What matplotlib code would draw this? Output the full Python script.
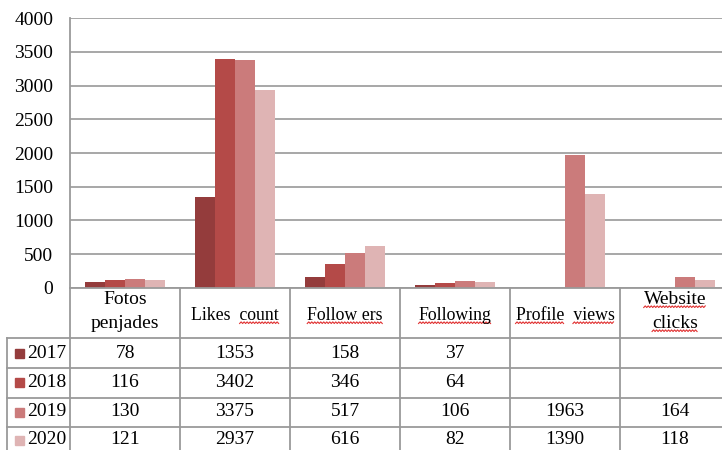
import matplotlib
matplotlib.use("Agg")
import matplotlib.pyplot as plt
import numpy as np

categories = ["Fotos\npenjades", "Likes  count", "Follow ers", "Following", "Profile  views", "Website\nclicks"]
years = ["2017", "2018", "2019", "2020"]
v2017 = [78, 1353, 158, 37, None, None]
v2018 = [116, 3402, 346, 64, None, None]
v2019 = [130, 3375, 517, 106, 1963, 164]
v2020 = [121, 2937, 616, 82, 1390, 118]
series = [v2017, v2018, v2019, v2020]
colors = ["#943c3c", "#b44a48", "#cb7b7b", "#dfb4b4"]
yticks = [0, 500, 1000, 1500, 2000, 2500, 3000, 3500, 4000]
# words with spell-check underline: (category index, line index, word)
squiggles = [(1, 0, "count"), (2, 0, "Follow ers"), (3, 0, "Following"),
             (4, 0, "Profile"), (4, 0, "views"), (5, 0, "Website"), (5, 1, "clicks")]

W, H = 722, 450
plt.rcParams['font.family'] = ['Liberation Serif', 'DejaVu Serif']
fig = plt.figure(figsize=(W / 100, H / 100), dpi=100)

def fx(x):
    return x / W

def fy(y):
    return 1 - y / H

ax_left, ax_right, ax_top, ax_bot = 70, 730, 18.3, 287.7
ax = fig.add_axes([fx(ax_left), fy(ax_bot), (ax_right - ax_left) / W, (ax_bot - ax_top) / H])

n = len(categories)
x = np.arange(n)
bw = 0.18
for i, (s, c) in enumerate(zip(series, colors)):
    vals = [np.nan if v is None else v for v in s]
    ax.bar(x + (i - 1.5) * bw, vals, width=bw, color=c, zorder=3, linewidth=0)

ax.set_xlim(-0.5, n - 0.5)
ax.set_ylim(0, 4000)
ax.set_yticks(yticks)
ax.set_yticklabels([str(t) for t in yticks], fontsize=14)
ax.set_xticks([])
ax.tick_params(axis='y', length=0, pad=12)
for sp in ['top', 'right', 'bottom']:
    ax.spines[sp].set_visible(False)
ax.spines['left'].set_color('#9a9a9a')
ax.spines['left'].set_linewidth(1.3)
ax.yaxis.grid(True, color='#a0a0a0', linewidth=1.3, zorder=0)
ax.set_axisbelow(True)

# Table
lc = '#9a9a9a'
lw = 1.3
col_w = (ax_right - ax_left) / n
col_edges = [ax_left + i * col_w for i in range(n + 1)]
row_lines = [287.7, 338, 367.5, 397.5, 427]
tbl_left = 7
fig.add_artist(plt.Line2D([fx(ax_left), fx(W + 10)], [fy(287.7), fy(287.7)], color=lc, lw=lw))
for yl in row_lines[1:]:
    fig.add_artist(plt.Line2D([fx(tbl_left), fx(W + 10)], [fy(yl), fy(yl)], color=lc, lw=lw))
for xe in col_edges[:-1]:
    fig.add_artist(plt.Line2D([fx(xe), fx(xe)], [fy(287.7), fy(H + 5)], color=lc, lw=lw))
fig.add_artist(plt.Line2D([fx(tbl_left), fx(tbl_left)], [fy(338), fy(H + 5)], color=lc, lw=lw))

fs = 14
header_texts = {}
for j, cat in enumerate(categories):
    cx = (col_edges[j] + col_edges[j + 1]) / 2
    lines = cat.split("\n")
    if len(lines) == 2:
        ys = [300, 324]
        hfs = 14
    else:
        ys = [316]
        hfs = 12.8
    for li, (ln, yy) in enumerate(zip(lines, ys)):
        t = fig.text(fx(cx), fy(yy), ln, ha='center', va='center', fontsize=hfs)
        header_texts[(j, li)] = (t, ln, cx, yy, hfs)

row_centers = [353, 382.5, 412, 440]
for i, (yr, s, c) in enumerate(zip(years, series, colors)):
    yc = row_centers[i]
    fig.add_artist(plt.Rectangle((fx(15), fy(yc + 4.5)), 9 / W, 9 / H, color=c, transform=fig.transFigure))
    fig.text(fx(27), fy(yc), yr, ha='left', va='center', fontsize=fs)
    for j, v in enumerate(s):
        if v is None:
            continue
        cx = (col_edges[j] + col_edges[j + 1]) / 2
        fig.text(fx(cx), fy(yc), str(v), ha='center', va='center', fontsize=fs)

# spell-check squiggles
fig.canvas.draw()
r = fig.canvas.get_renderer()
for (j, li, word) in squiggles:
    t, ln, cx, yy, hfs = header_texts[(j, li)]
    bb = t.get_window_extent(renderer=r)
    start = ln.find(word)
    pre = fig.text(0, 0, ln[:start], fontsize=hfs)
    wd = fig.text(0, 0, word, fontsize=hfs)
    pre_w = pre.get_window_extent(renderer=r).width if start > 0 else 0
    w_w = wd.get_window_extent(renderer=r).width
    pre.remove(); wd.remove()
    x0 = bb.x0 + pre_w
    x1 = x0 + w_w
    ybase = bb.y0 + 1
    xs = np.arange(x0, x1 + 0.1, 1.5)
    ys = ybase + np.where(np.arange(len(xs)) % 2 == 0, 0.0, 1.6)
    fig.add_artist(plt.Line2D(xs / W, ys / H, color='#e03030', lw=0.8, transform=fig.transFigure))

fig.savefig("out.png", dpi=100)
